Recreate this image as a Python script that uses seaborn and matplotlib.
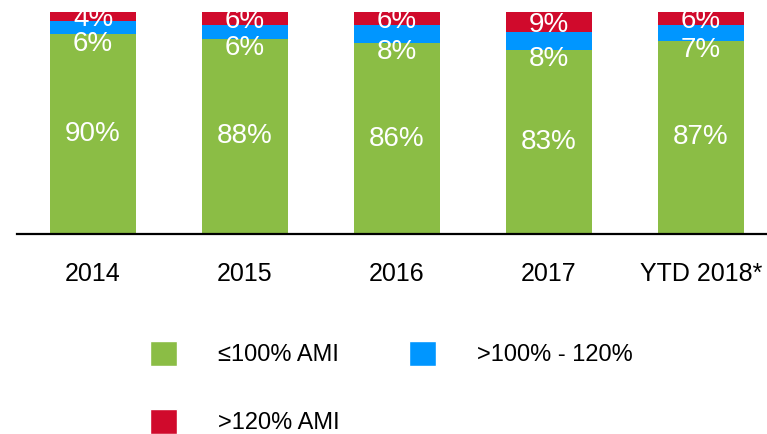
import matplotlib
matplotlib.use("Agg")
import matplotlib.pyplot as plt
from matplotlib.patches import Patch
import seaborn as sns
import numpy as np
import pandas as pd

years = ["2014", "2015", "2016", "2017", "YTD 2018*"]
ami_le_100 = [90, 88, 86, 83, 87]
ami_100_120 = [6, 6, 8, 8, 7]
ami_gt_120 = [4, 6, 6, 9, 6]

series_names = ["\u2264100% AMI", ">100% - 120%", ">120% AMI"]
green, blue, red = "#8BBD45", "#0096FF", "#D00A2C"

sns.set_style("white")
plt.rcParams["font.family"] = ["Liberation Sans", "DejaVu Sans"]
plt.rcParams["text.color"] = "black"
plt.rcParams["xtick.color"] = "black"

df = pd.DataFrame({"year": years,
                   "low": np.array(ami_le_100) / 100,
                   "mid": np.array(ami_100_120) / 100,
                   "high": np.array(ami_gt_120) / 100})
df["cum_mid"] = df["low"] + df["mid"]
df["cum_high"] = df["cum_mid"] + df["high"]

fig = plt.figure(figsize=(7.67, 4.34), dpi=100)
ax = fig.add_axes([17 / 767, 1 - 234 / 434, 750 / 767, 222 / 434])

bw = 86 / 152
# stacked bars: draw totals first, then overlay smaller cumulative sums
for col, c in [("cum_high", red), ("cum_mid", blue), ("low", green)]:
    sns.barplot(data=df, x="year", y=col, color=c, width=bw, saturation=1,
                linewidth=0, ax=ax)

for i, row in df.iterrows():
    ax.text(i, row["low"] / 2, f"{ami_le_100[i]}%", color="white",
            ha="center", va="center", fontsize=20)
    ax.text(i, row["low"] - 0.042, f"{ami_100_120[i]}%", color="white",
            ha="center", va="center", fontsize=20)
    ax.text(i, row["cum_mid"] + row["high"] / 2 - 0.012, f"{ami_gt_120[i]}%",
            color="white", ha="center", va="center", fontsize=20, clip_on=True)

ax.set_ylim(0, 1)
ax.set_xlim(-0.5, -0.5 + 750 / 152)
ax.set_xlabel("")
ax.set_ylabel("")
ax.set_yticks([])
for s in ["top", "left", "right"]:
    ax.spines[s].set_visible(False)
ax.spines["bottom"].set_color("black")
ax.spines["bottom"].set_linewidth(1.6)
ax.tick_params(axis="x", length=0, pad=20, labelsize=18, labelcolor="black")

# legend is filled column-wise: order so rows read green, blue / red
handles = [Patch(facecolor=green, label=series_names[0]),
           Patch(facecolor=red, label=series_names[2]),
           Patch(facecolor=blue, label=series_names[1])]
fig.legend(handles=handles, loc="upper left", bbox_to_anchor=(150 / 767, 1 - 341 / 434),
           ncol=2, frameon=False, fontsize=17, borderpad=0, borderaxespad=0,
           handlelength=1.15, handleheight=1.25, handletextpad=1.75,
           columnspacing=2.9, labelspacing=1.8)

fig.savefig("out.png", dpi=100)
